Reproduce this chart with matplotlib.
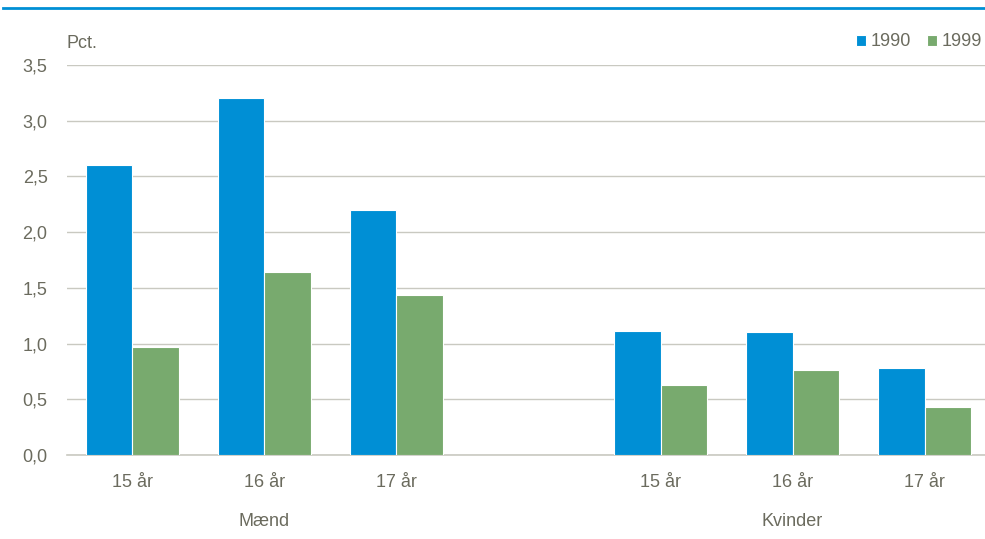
import matplotlib
matplotlib.use('Agg')
import matplotlib.pyplot as plt
from matplotlib import font_manager
import numpy as np

# data
ages = ['15 år', '16 år', '17 år']
groups = ['Mænd', 'Kvinder']
men_1990 = [2.6, 3.2, 2.2]
men_1999 = [0.97, 1.64, 1.44]
women_1990 = [1.11, 1.10, 0.78]
women_1999 = [0.63, 0.76, 0.43]
yticks = [0.0, 0.5, 1.0, 1.5, 2.0, 2.5, 3.0, 3.5]

names = {f.name for f in font_manager.fontManager.ttflist}
fam = 'Liberation Sans Narrow' if 'Liberation Sans Narrow' in names else 'Liberation Sans'
plt.rcParams['font.family'] = [fam, 'DejaVu Sans']

textcolor = '#6b6b5e'
gridcolor = '#c9c9c1'
blue = '#008fd5'
green = '#78aa6e'

fig = plt.figure(figsize=(9.85, 5.39), dpi=100)
ax = fig.add_axes([67/985, 84/539, 918/985, 390/539])

# slot positions: three men, one gap, three women
xpos = np.array([0, 1, 2, 4, 5, 6])
v1990 = men_1990 + women_1990
v1999 = men_1999 + women_1999
w = 0.35
ax.bar(xpos - w/2, v1990, w, color=blue, edgecolor='white', linewidth=0.8, zorder=3, label='1990')
ax.bar(xpos + w/2, v1999, w, color=green, edgecolor='white', linewidth=0.8, zorder=3, label='1999')

ax.set_xlim(-0.496, 6.458)
ax.set_ylim(0, 3.5)
ax.set_yticks(yticks)
ax.set_yticklabels([f'{t:.1f}'.replace('.', ',') for t in yticks])
ax.set_xticks(xpos)
ax.set_xticklabels(ages * 2)
ax.grid(axis='y', color=gridcolor, linewidth=1, zorder=0)
for s in ['top', 'right', 'left']:
    ax.spines[s].set_visible(False)
ax.spines['bottom'].set_color(gridcolor)
ax.spines['bottom'].set_linewidth(1.2)
ax.tick_params(axis='both', length=0, colors=textcolor, labelsize=13)
ax.tick_params(axis='y', pad=14)
ax.tick_params(axis='x', pad=14)

# group labels
ax.text(1, -66/390, groups[0], transform=ax.get_xaxis_transform(), ha='center', va='center',
        color=textcolor, fontsize=13)
ax.text(5, -66/390, groups[1], transform=ax.get_xaxis_transform(), ha='center', va='center',
        color=textcolor, fontsize=13)

fig.text(67/985, 1 - 43/539, 'Pct.', ha='left', va='center', color=textcolor, fontsize=13)

leg = ax.legend(loc='center right', bbox_to_anchor=(0.997, 1 + 23/390), ncol=2, frameon=False,
                fontsize=13, handlelength=0.55, handleheight=0.55, handletextpad=0.25,
                columnspacing=0.9, borderaxespad=0, borderpad=0)
for t in leg.get_texts():
    t.set_color(textcolor)

# top blue line
fig.add_artist(plt.Line2D([3/985, 1], [1 - 8/539, 1 - 8/539], color=blue, linewidth=2))

plt.savefig('out.png', dpi=100)
